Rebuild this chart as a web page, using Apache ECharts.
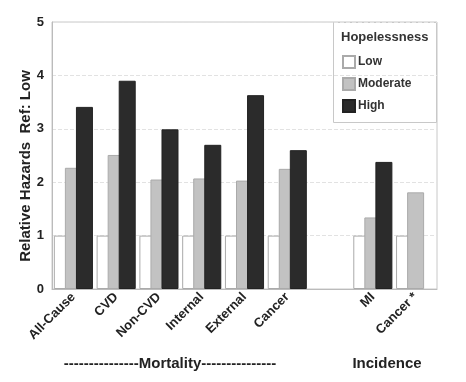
<!DOCTYPE html>
<html>
<head>
<meta charset="utf-8">
<script src="https://cdn.jsdelivr.net/npm/echarts@6/dist/echarts.min.js"></script>
<style>html,body{margin:0;padding:0;background:#fff}#c{width:466px;height:382px}</style>
</head>
<body>
<div id="c"></div>
<script>
const categories = ['All-Cause','CVD','Non-CVD','Internal','External','Cancer','','MI','Cancer *'];
const lowValues = [1,1,1,1,1,1,null,1,1];
const moderateValues = [2.27,2.51,2.05,2.07,2.03,2.25,null,1.34,1.81];
const highValues = [3.41,3.90,2.99,2.70,3.63,2.60,null,2.38,null];
const yTicks = [0,1,2,3,4,5];

const FONT = '"Liberation Sans", Arial, sans-serif';
const chart = echarts.init(document.getElementById('c'), null, {renderer:'canvas'});
const barCommon = {type:'bar', barWidth:17, barGap:'-35%'};
chart.setOption({
  animation:false,
  backgroundColor:'#fff',
  grid:{left:52, right:29, top:22, bottom:93, show:true, borderColor:'#c8c8c8', borderWidth:1},
  legend:{
    orient:'vertical', left:337, top:50, itemWidth:12, itemHeight:12, itemGap:8,
    icon:'rect',
    textStyle:{fontFamily:FONT, fontWeight:'bold', fontSize:12, color:'#333', padding:[0,0,0,-2]},
    data:['Low','Moderate','High']
  },
  xAxis:{
    type:'category', data:categories,
    axisTick:{show:false},
    axisLine:{lineStyle:{color:'#bbb'}},
    axisLabel:{interval:0, rotate:45, fontFamily:FONT, fontWeight:'bold', fontSize:13, color:'#222', margin:6}
  },
  yAxis:{
    type:'value', min:0, max:5, interval:1,
    axisLine:{show:true, lineStyle:{color:'#bbb'}},
    axisTick:{show:false},
    axisLabel:{fontFamily:FONT, fontWeight:'bold', fontSize:13, color:'#222', margin:8,
      formatter:v=>yTicks.includes(v)?String(v):''},
    splitLine:{show:true, lineStyle:{color:'#e2e2e2', type:'dashed'}}
  },
  graphic:[
    {type:'rect', shape:{x:333.5, y:22.5, width:103, height:100}, style:{fill:'none', stroke:'#c8c8c8', lineWidth:1}},
    {type:'text', left:341, top:31, style:{text:'Hopelessness', font:'bold 13px '+FONT, fill:'#333'}},
    {type:'text', x:26, y:166, rotation:Math.PI/2, style:{text:'Relative Hazards  Ref: Low', font:'bold 15px '+FONT, fill:'#222', align:'center', verticalAlign:'middle'}},
    {type:'text', x:170, y:364, style:{text:'---------------Mortality---------------', font:'bold 15px '+FONT, fill:'#222', align:'center', verticalAlign:'middle'}},
    {type:'text', x:387, y:364, style:{text:'Incidence', font:'bold 15px '+FONT, fill:'#222', align:'center', verticalAlign:'middle'}}
  ],
  series:[
    Object.assign({}, barCommon, {name:'Low', data:lowValues, itemStyle:{color:'#ffffff', borderColor:'#aaa', borderWidth:1}}),
    Object.assign({}, barCommon, {name:'Moderate', data:moderateValues, itemStyle:{color:'#c2c2c2', borderColor:'#aaa', borderWidth:1}}),
    Object.assign({}, barCommon, {name:'High', data:highValues, itemStyle:{color:'#2b2b2b', borderColor:'#222', borderWidth:1}})
  ]
});
</script>
</body>
</html>
